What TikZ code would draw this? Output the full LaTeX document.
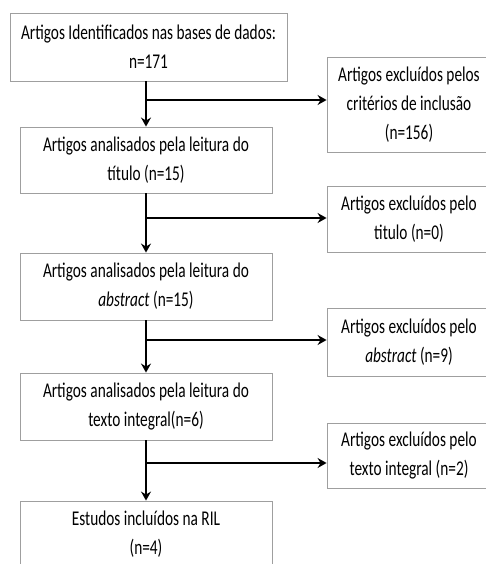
\documentclass[tikz,border=0pt]{standalone}
\usepackage{fontspec}
\setmainfont{Carlito}[FakeStretch=0.73]
\usetikzlibrary{arrows.meta}

\tikzset{
  caixa/.style={draw=gray!75,line width=0.9pt,fill=white,align=center,
    inner sep=0pt,font=\fontsize{21}{29}\selectfont},
  seta/.style={line width=2.4pt,-{Stealth[length=9pt,width=10pt,inset=3pt]}},
}

\begin{document}
\begin{tikzpicture}[x=1pt,y=-1pt]
  \useasboundingbox (0,0) rectangle (485,564);
  %\draw[thin,gray!30] (0,0) grid[step=50] (485,564);
  % coluna da esquerda
  \node[caixa,minimum width=277pt,minimum height=68pt] (ident) at (148.5,47)
    {Artigos Identificados nas bases de dados:\\ n=171};
  \node[caixa,minimum width=252pt,minimum height=66pt] (titulo) at (146,160)
    {Artigos analisados pela leitura do\\ título (n=15)};
  \node[caixa,minimum width=252pt,minimum height=67pt] (abstr) at (146,286.5)
    {Artigos analisados pela leitura do\\ \textit{abstract} (n=15)};
  \node[caixa,minimum width=252pt,minimum height=67pt] (integral) at (146,406.5)
    {Artigos analisados pela leitura do\\ texto integral(n=6)};
  \node[caixa,minimum width=252pt,minimum height=66pt] (incluidos) at (146,534)
    {Estudos incluídos na RIL\\ (n=4)};
  % coluna da direita
  \node[caixa,minimum width=164pt,minimum height=95pt] (exclA) at (409,104.5)
    {Artigos excluídos pelos\\ critérios de inclusão\\ (n=156)};
  \node[caixa,minimum width=164pt,minimum height=66pt] (exclB) at (409,219)
    {Artigos excluídos pelo\\ titulo (n=0)};
  \node[caixa,minimum width=164pt,minimum height=68pt] (exclC) at (409,342)
    {Artigos excluídos pelo\\ \textit{abstract} (n=9)};
  \node[caixa,minimum width=164pt,minimum height=65pt] (exclD) at (409,455.5)
    {Artigos excluídos pelo\\ texto integral (n=2)};
  % pontos de ramificacao
  \coordinate (r1) at (146,100);
  \coordinate (r2) at (146,218);
  \coordinate (r3) at (146,340);
  \coordinate (r4) at (146,463);
  % setas
  \draw[seta] (titulo.north |- ident.south) -- (titulo.north);
  \draw[seta] (titulo.south) -- (abstr.north);
  \draw[seta] (abstr.south) -- (integral.north);
  \draw[seta] (integral.south) -- (incluidos.north);
  \draw[seta] (r1) -- (r1 -| exclA.west);
  \draw[seta] (r2) -- (r2 -| exclB.west);
  \draw[seta] (r3) -- (r3 -| exclC.west);
  \draw[seta] (r4) -- (r4 -| exclD.west);
\end{tikzpicture}
\end{document}
